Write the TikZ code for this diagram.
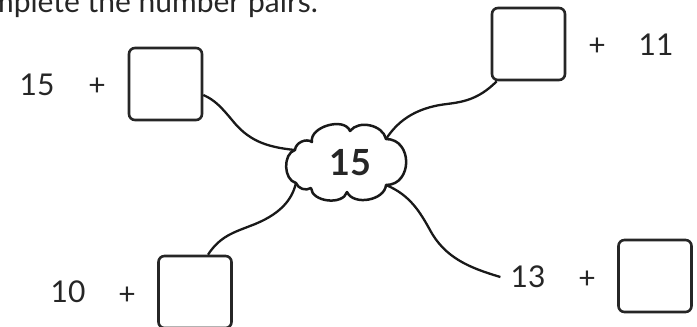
\documentclass[tikz,border=0pt]{standalone}
\usepackage{fontspec}
\setmainfont{Lato}
\begin{document}
\begin{tikzpicture}[x=1pt,y=-1pt,
  ansbox/.style={draw=black!85,line width=2.6pt,rounded corners=6pt,minimum width=73pt,minimum height=72pt,inner sep=0pt},
  num/.style={font=\fontsize{30}{30}\selectfont,text=black!85,inner sep=0pt},
  link/.style={draw=black!90,line width=2.3pt},
  bubble/.style={draw=black!90,line width=2.5pt,line join=round}]
\useasboundingbox (0,0) rectangle (697,327);
\node[num,anchor=base east] (title) at (318,12) {Complete the number pairs.};
% boxes
\node[ansbox] (b1) at (165.5,84) {};
\node[ansbox] (b2) at (528.5,44) {};
\node[ansbox] (b3) at (195,292) {};
\node[ansbox] (b4) at (655,276) {};
% labels
\node[num] (n1) at (37,85) {15};
\node[num] (p1) at (97,87) {+};
\node[num] (p2) at (597,47) {+};
\node[num] (n2) at (656,45) {11};
\node[num] (n3) at (68,292) {10};
\node[num] (p3) at (127,296) {+};
\node[num] (n4) at (528,277) {13};
\node[num] (p4) at (587,280) {+};
% cloud outline (notches)
\coordinate (cA) at (295,150);
\coordinate (cB) at (312,142);
\coordinate (cC) at (350,131);
\coordinate (cD) at (386,139);
\coordinate (cE) at (386,185);
\coordinate (cF) at (347,192);
\coordinate (cG) at (311,188);
\coordinate (cH) at (296,183);
\draw[bubble] (cA) to[bend left=60] (cB) to[bend left=85] (cC) to[bend left=65] (cD)
  to[bend left=90,looseness=1.5] (cE) to[bend left=75] (cF) to[bend left=80] (cG)
  to[bend left=50] (cH) to[bend left=75] (cA) -- cycle;
\node[num,font=\fontsize{36}{36}\selectfont\bfseries] (ct) at (350,163) {15};
% connectors
\draw[link] (b1.east |- 0,95) .. controls (215,100) and (222,108) .. (232,120)
  .. controls (248,140) and (265,147) .. (cA);
\draw[link] ([xshift=6pt]b2.south west) .. controls (478,100) and (462,102) .. (447,104)
  .. controls (412,108) and (396,124) .. (cD);
\draw[link] ([xshift=13pt]b3.north) .. controls (220,236) and (235,232) .. (250,226)
  .. controls (280,215) and (292,200) .. (cH);
\draw[link] (cE) .. controls (410,195) and (420,212) .. (430,230)
  .. controls (445,258) and (470,268) .. ([xshift=-10pt]n4.west);
\end{tikzpicture}
\end{document}
